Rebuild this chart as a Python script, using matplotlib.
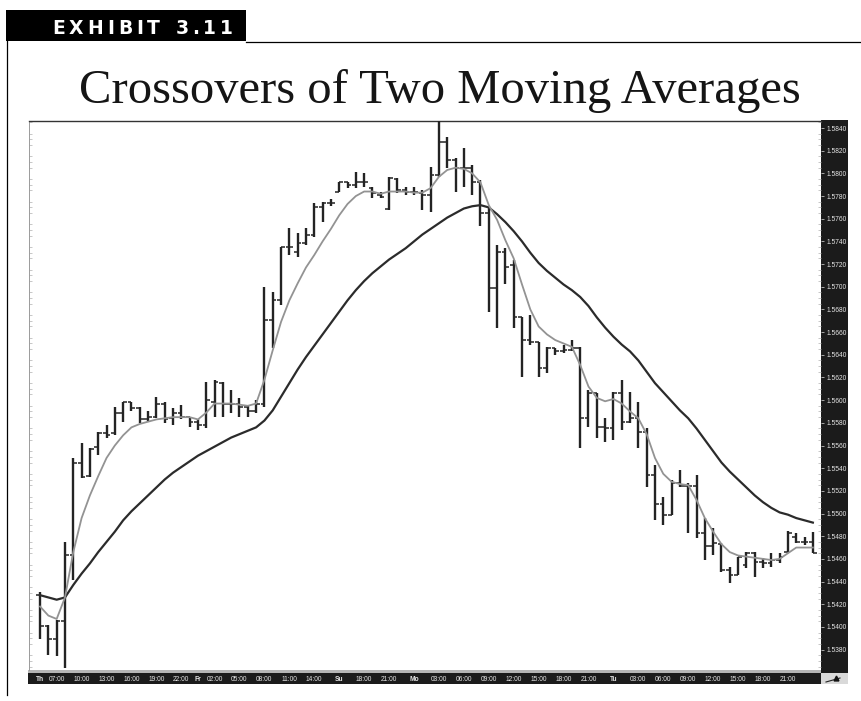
import matplotlib
matplotlib.use("Agg")
import matplotlib.pyplot as plt
from matplotlib.patches import Rectangle
from matplotlib.lines import Line2D
from matplotlib.ticker import MultipleLocator
import numpy as np

# ---------------- data (hourly bars, EUR/USD style quotes) ----------------
opens = [1.5428, 1.5401, 1.5389, 1.5405, 1.5463, 1.5545, 1.5533, 1.5559, 1.5571, 1.5571,
         1.5589, 1.5598, 1.5593, 1.5583, 1.5585, 1.5597, 1.5584, 1.5589, 1.5585, 1.5581,
         1.5578, 1.5598, 1.5615, 1.5597, 1.5597, 1.5594, 1.5590, 1.5597, 1.5671, 1.5688,
         1.5735, 1.5731, 1.5739, 1.5746, 1.5770, 1.5774, 1.5784, 1.5792, 1.5790, 1.5792,
         1.5787, 1.5781, 1.5769, 1.5795, 1.5785, 1.5784, 1.5783, 1.5781, 1.5799, 1.5828,
         1.5812, 1.5805, 1.5805, 1.5792, 1.5765, 1.5699, 1.5731, 1.5719, 1.5673, 1.5653,
         1.5651, 1.5628, 1.5646, 1.5643, 1.5644, 1.5646, 1.5584, 1.5606, 1.5576, 1.5575,
         1.5606, 1.5581, 1.5584, 1.5572, 1.5534, 1.5508, 1.5499, 1.5527, 1.5524, 1.5524,
         1.5483, 1.5471, 1.5473, 1.5450, 1.5446, 1.5455, 1.5465, 1.5457, 1.5456, 1.5459,
         1.5466, 1.5479, 1.5475, 1.5475]
highs = [1.5431, 1.5402, 1.5406, 1.5475, 1.5549, 1.5562, 1.5558, 1.5572, 1.5578, 1.5594,
         1.5598, 1.5598, 1.5594, 1.5590, 1.5603, 1.5598, 1.5593, 1.5596, 1.5585, 1.5583,
         1.5616, 1.5618, 1.5616, 1.5609, 1.5602, 1.5596, 1.5600, 1.5700, 1.5695, 1.5735,
         1.5752, 1.5747, 1.5752, 1.5774, 1.5775, 1.5777, 1.5792, 1.5792, 1.5801, 1.5800,
         1.5788, 1.5784, 1.5797, 1.5796, 1.5788, 1.5788, 1.5785, 1.5806, 1.5849, 1.5832,
         1.5814, 1.5822, 1.5807, 1.5794, 1.5770, 1.5737, 1.5734, 1.5724, 1.5673, 1.5675,
         1.5651, 1.5647, 1.5646, 1.5649, 1.5653, 1.5647, 1.5609, 1.5606, 1.5584, 1.5607,
         1.5618, 1.5607, 1.5598, 1.5575, 1.5543, 1.5515, 1.5530, 1.5538, 1.5527, 1.5534,
         1.5496, 1.5487, 1.5474, 1.5453, 1.5462, 1.5466, 1.5466, 1.5461, 1.5465, 1.5465,
         1.5485, 1.5483, 1.5479, 1.5484]
lows = [1.5389, 1.5375, 1.5374, 1.5364, 1.5441, 1.5531, 1.5532, 1.5552, 1.5567, 1.5569,
        1.5581, 1.5590, 1.5580, 1.5581, 1.5584, 1.5580, 1.5578, 1.5583, 1.5576, 1.5574,
        1.5575, 1.5585, 1.5585, 1.5589, 1.5585, 1.5585, 1.5589, 1.5594, 1.5646, 1.5684,
        1.5728, 1.5726, 1.5737, 1.5744, 1.5757, 1.5771, 1.5784, 1.5787, 1.5787, 1.5788,
        1.5778, 1.5778, 1.5768, 1.5783, 1.5781, 1.5781, 1.5768, 1.5766, 1.5797, 1.5805,
        1.5784, 1.5788, 1.5781, 1.5754, 1.5678, 1.5664, 1.5702, 1.5664, 1.5620, 1.5649,
        1.5620, 1.5624, 1.5640, 1.5642, 1.5643, 1.5558, 1.5576, 1.5567, 1.5563, 1.5565,
        1.5574, 1.5580, 1.5558, 1.5523, 1.5494, 1.5490, 1.5499, 1.5523, 1.5483, 1.5478,
        1.5459, 1.5463, 1.5448, 1.5439, 1.5446, 1.5452, 1.5444, 1.5452, 1.5453, 1.5456,
        1.5466, 1.5474, 1.5472, 1.5465]
closes = [1.5401, 1.5389, 1.5405, 1.5463, 1.5545, 1.5532, 1.5557, 1.5571, 1.5569, 1.5589,
          1.5598, 1.5593, 1.5583, 1.5585, 1.5597, 1.5583, 1.5589, 1.5585, 1.5581, 1.5578,
          1.5600, 1.5616, 1.5597, 1.5597, 1.5594, 1.5590, 1.5597, 1.5671, 1.5688, 1.5735,
          1.5735, 1.5739, 1.5746, 1.5770, 1.5774, 1.5774, 1.5792, 1.5790, 1.5792, 1.5792,
          1.5783, 1.5779, 1.5796, 1.5785, 1.5784, 1.5784, 1.5781, 1.5799, 1.5828, 1.5812,
          1.5805, 1.5805, 1.5792, 1.5765, 1.5699, 1.5731, 1.5717, 1.5673, 1.5653, 1.5651,
          1.5628, 1.5646, 1.5643, 1.5644, 1.5646, 1.5584, 1.5606, 1.5576, 1.5575, 1.5606,
          1.5581, 1.5584, 1.5572, 1.5534, 1.5508, 1.5499, 1.5527, 1.5524, 1.5524, 1.5483,
          1.5471, 1.5474, 1.5450, 1.5446, 1.5462, 1.5465, 1.5457, 1.5456, 1.5459, 1.5462,
          1.5483, 1.5475, 1.5475, 1.5465]
ma_fast = [1.5418, 1.5410, 1.5407, 1.5426, 1.5466, 1.5496, 1.5516, 1.5533, 1.5549, 1.5560,
           1.5569, 1.5576, 1.5579, 1.5581, 1.5583, 1.5584, 1.5585, 1.5585, 1.5585, 1.5583,
           1.5589, 1.5597, 1.5597, 1.5597, 1.5596, 1.5595, 1.5597, 1.5618, 1.5644, 1.5669,
           1.5688, 1.5703, 1.5717, 1.5728, 1.5740, 1.5751, 1.5763, 1.5773, 1.5780, 1.5784,
           1.5784, 1.5782, 1.5784, 1.5784, 1.5784, 1.5783, 1.5783, 1.5787, 1.5797, 1.5803,
           1.5805, 1.5804, 1.5800, 1.5792, 1.5772, 1.5759, 1.5741, 1.5725, 1.5702, 1.5680,
           1.5665, 1.5658, 1.5653, 1.5650, 1.5647, 1.5631, 1.5612, 1.5602, 1.5599, 1.5601,
           1.5597, 1.5590, 1.5584, 1.5570, 1.5549, 1.5535, 1.5528, 1.5526, 1.5525, 1.5512,
           1.5496, 1.5484, 1.5473, 1.5466, 1.5463, 1.5462, 1.5461, 1.5460, 1.5459, 1.5460,
           1.5465, 1.5470, 1.5470, 1.5470]
ma_slow = [1.5428, 1.5426, 1.5424, 1.5426, 1.5437, 1.5447, 1.5456, 1.5466, 1.5475, 1.5484,
           1.5494, 1.5502, 1.5509, 1.5516, 1.5523, 1.5530, 1.5536, 1.5541, 1.5546, 1.5551,
           1.5555, 1.5559, 1.5563, 1.5567, 1.5570, 1.5573, 1.5576, 1.5582, 1.5591, 1.5603,
           1.5615, 1.5627, 1.5638, 1.5648, 1.5658, 1.5668, 1.5678, 1.5688, 1.5697, 1.5705,
           1.5712, 1.5718, 1.5724, 1.5729, 1.5734, 1.5740, 1.5746, 1.5751, 1.5756, 1.5761,
           1.5765, 1.5769, 1.5771, 1.5772, 1.5770, 1.5764, 1.5757, 1.5749, 1.5740, 1.5730,
           1.5721, 1.5714, 1.5708, 1.5702, 1.5697, 1.5691, 1.5683, 1.5673, 1.5664, 1.5656,
           1.5649, 1.5643, 1.5635, 1.5625, 1.5615, 1.5607, 1.5599, 1.5591, 1.5584, 1.5575,
           1.5565, 1.5555, 1.5545, 1.5537, 1.5530, 1.5523, 1.5516, 1.5510, 1.5505, 1.5501,
           1.5499, 1.5496, 1.5494, 1.5492]

tick_bars = [0, 2, 5, 8, 11, 14, 17, 19, 21, 24, 27, 30, 33, 36, 39, 42,
             45, 48, 51, 54, 57, 60, 63, 66, 69, 72, 75, 78, 81, 84, 87, 90]
tick_labels = ["Th", "07:00", "10:00", "13:00", "16:00", "19:00", "22:00",
               "Fr", "02:00", "05:00", "08:00", "11:00", "14:00",
               "Su", "18:00", "21:00",
               "Mo", "03:00", "06:00", "09:00", "12:00", "15:00", "18:00", "21:00",
               "Tu", "03:00", "06:00", "09:00", "12:00", "15:00", "18:00", "21:00"]
day_names = ["Th", "Fr", "Su", "Mo", "Tu"]
price_ticks = [1.5840, 1.5820, 1.5800, 1.5780, 1.5760, 1.5740, 1.5720, 1.5700,
               1.5680, 1.5660, 1.5640, 1.5620, 1.5600, 1.5580, 1.5560, 1.5540,
               1.5520, 1.5500, 1.5480, 1.5460, 1.5440, 1.5420, 1.5400, 1.5380]

title = "Crossovers of Two Moving Averages"
exhibit = "EXHIBIT 3.11"

# ---------------- layout helpers ----------------
W, H = 862, 701
fig = plt.figure(figsize=(W / 100, H / 100), dpi=100)
fig.patch.set_facecolor("white")


def fx(px):
    return px / W


def fy(py):
    return 1 - py / H


# header block
fig.patches.append(Rectangle((fx(6), fy(41)), fx(246) - fx(6), fy(10) - fy(41),
                             transform=fig.transFigure, facecolor="black",
                             edgecolor="none", zorder=-1))
fig.lines.append(Line2D([fx(246), fx(862)], [fy(41.5), fy(41.5)],
                        transform=fig.transFigure, color="black", lw=0.9))
fig.lines.append(Line2D([fx(7.5), fx(7.5)], [fy(41), fy(695)],
                        transform=fig.transFigure, color="black", lw=0.9))

renderer = fig.canvas.get_renderer()
cursor = 52
for ch in exhibit:
    if ch == " ":
        cursor += 11
        continue
    t = fig.text(fx(cursor), fy(34), ch, color="white", fontsize=13.5,
                 fontweight="heavy", family="DejaVu Sans", ha="left", va="baseline")
    w = t.get_window_extent(renderer).width
    cursor += w + 4.0

fig.text(fx(440), fy(103), title, family="Liberation Serif", fontsize=35,
         ha="center", va="baseline", color="#151515")

# chart strips
fig.patches.append(Rectangle((fx(821), fy(684)), fx(848) - fx(821), fy(120) - fy(684),
                             transform=fig.transFigure, facecolor="#1b1b1b",
                             edgecolor="none", zorder=-1))
fig.patches.append(Rectangle((fx(28), fy(684)), fx(821) - fx(28), fy(673) - fy(684),
                             transform=fig.transFigure, facecolor="#1b1b1b",
                             edgecolor="none", zorder=-1))
fig.patches.append(Rectangle((fx(28), fy(673)), fx(821) - fx(28), fy(670) - fy(673),
                             transform=fig.transFigure, facecolor="#b5b5b5",
                             edgecolor="none", zorder=-1))
fig.patches.append(Rectangle((fx(821), fy(684)), fx(848) - fx(821), fy(673) - fy(684),
                             transform=fig.transFigure, facecolor="#d9d9d9",
                             edgecolor="none", zorder=-0.5))
fig.lines.append(Line2D([fx(826), fx(840)], [fy(682), fy(678)],
                        transform=fig.transFigure, color="#222222", lw=0.8))
fig.lines.append(Line2D([fx(836)], [fy(678)], marker="^", markersize=3.5,
                        transform=fig.transFigure, color="#111111", lw=0))

# main axes
ax = fig.add_axes([fx(29), fy(670), fx(821) - fx(29), fy(121) - fy(670)])
ax.set_facecolor("white")
n = len(closes)
xs = np.arange(n)

bar_color = "#232323"
ax.vlines(xs, lows, highs, color=bar_color, lw=1.7, zorder=3)
ax.hlines(opens, xs - 0.45, xs, color=bar_color, lw=1.1, zorder=3)
ax.hlines(closes, xs, xs + 0.45, color=bar_color, lw=1.1, zorder=3)

ax.plot(xs, ma_slow, color="#2b2b2b", lw=1.6, zorder=4, solid_joinstyle="round")
ax.plot(xs, ma_fast, color="#939393", lw=1.3, zorder=4, solid_joinstyle="round")

ax.set_xlim(-1.33, 93.98)
ax.set_ylim(1.53620, 1.58462)

# y axis on the right inside the dark strip
ax.yaxis.tick_right()
ax.set_yticks(price_ticks)
ax.set_yticklabels([f"{p:.4f}" for p in price_ticks])
ax.tick_params(axis="y", which="major", right=True, left=False, length=2.5,
               width=0.6, color="#bdbdbd", pad=1.2, labelsize=4.8,
               labelcolor="#e6e6e6")
ax.yaxis.set_minor_locator(MultipleLocator(0.0005))
ax.tick_params(axis="y", which="minor", left=True, right=True, length=2,
               width=0.5, color="#b0b0b0", direction="in")
for lab in ax.get_yticklabels():
    lab.set_family("Liberation Sans")

ax.set_xticks(tick_bars)
ax.set_xticklabels(tick_labels)
ax.tick_params(axis="x", length=0, pad=4.2, labelsize=4.8, labelcolor="#e6e6e6")
for lab in ax.get_xticklabels():
    lab.set_family("Liberation Sans")
    if lab.get_text() in day_names:
        lab.set_fontweight("bold")

ax.spines["top"].set_color("#333333")
ax.spines["top"].set_linewidth(1.0)
ax.spines["left"].set_color("#9a9a9a")
ax.spines["left"].set_linewidth(0.7)
ax.spines["right"].set_visible(False)
ax.spines["bottom"].set_visible(False)

fig.savefig("out.png", dpi=100, facecolor="white")
